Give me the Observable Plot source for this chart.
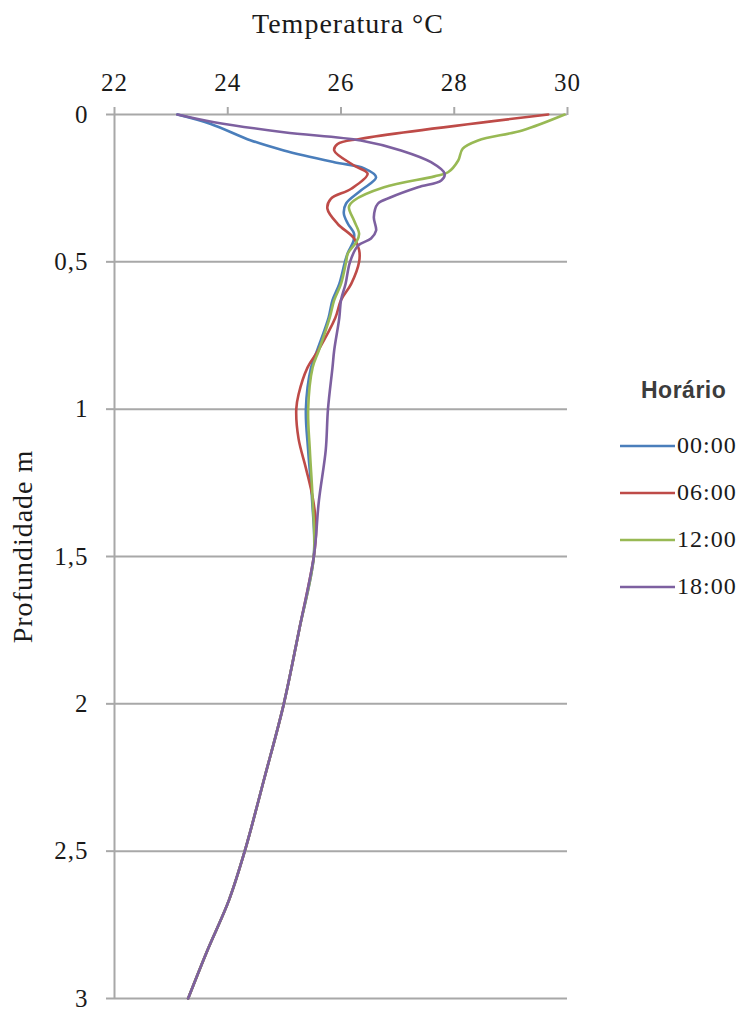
<!DOCTYPE html>
<html><head><meta charset="utf-8">
<script src="https://cdn.jsdelivr.net/npm/d3@7"></script>
<script src="https://cdn.jsdelivr.net/npm/@observablehq/plot@0.6"></script>
<style>
body{margin:0;background:#fff;}
#wrap{position:relative;width:740px;height:1010px;overflow:hidden;}
#legend{position:absolute;left:620px;top:372px;}
#legend .ttl{font-family:"Liberation Sans",sans-serif;font-weight:bold;font-size:23px;color:#3c3c3c;letter-spacing:0.5px;margin-left:21px;height:50px;line-height:36px;}
#legend .item{display:flex;align-items:center;height:47px;font-family:"Liberation Serif",serif;font-size:24px;letter-spacing:1px;color:#1a1a1a;}
#legend .item svg{margin-right:2px;}
</style></head><body><div id="wrap"></div>
<script>
const series = ["00:00", "06:00", "12:00", "18:00"];
const colors = ["#4a7ebb", "#be4b48", "#98b954", "#7d60a0"];
const legendTitle = "Horário";
const xTitle = "Temperatura °C";
const yTitle = "Profundidade m";
const xTicks = [22, 24, 26, 28, 30];
const yTicks = [0, 0.5, 1, 1.5, 2, 2.5, 3];

const depth00 = [0, 0.032, 0.088, 0.122, 0.162, 0.183, 0.213, 0.258, 0.302, 0.336, 0.37, 0.404, 0.43, 0.47, 0.5, 0.575, 0.63, 0.69, 0.8, 0.86, 1.0, 1.14, 1.31];
const temp00  = [23.11, 23.70, 24.41, 24.99, 25.88, 26.41, 26.62, 26.35, 26.09, 26.05, 26.12, 26.23, 26.22, 26.12, 26.07, 25.97, 25.85, 25.78, 25.58, 25.47, 25.38, 25.42, 25.49];

const depth06 = [0, 0.082, 0.1, 0.122, 0.173, 0.201, 0.252, 0.286, 0.32, 0.371, 0.42, 0.46, 0.5, 0.575, 0.63, 0.69, 0.8, 0.858, 0.95, 1.0, 1.1, 1.2, 1.3, 1.4];
const temp06  = [29.66, 26.35, 25.94, 25.88, 26.23, 26.47, 26.18, 25.82, 25.76, 25.94, 26.23, 26.32, 26.32, 26.18, 26.0, 25.9, 25.6, 25.41, 25.25, 25.21, 25.25, 25.38, 25.5, 25.56];

const depth12 = [0, 0.054, 0.088, 0.116, 0.156, 0.196, 0.21, 0.247, 0.292, 0.314, 0.36, 0.405, 0.433, 0.472, 0.5, 0.575, 0.63, 0.69, 0.8, 0.858, 1.0, 1.14, 1.31];
const temp12  = [29.95, 29.2, 28.42, 28.15, 28.07, 27.89, 27.65, 26.76, 26.23, 26.14, 26.23, 26.32, 26.27, 26.12, 26.09, 26.0, 25.88, 25.8, 25.61, 25.5, 25.42, 25.45, 25.5];

const depth18 = [0, 0.026, 0.06, 0.088, 0.122, 0.162, 0.201, 0.224, 0.247, 0.281, 0.303, 0.348, 0.394, 0.421, 0.445, 0.5, 0.575, 0.63, 0.69, 0.8, 0.858, 1.0, 1.14, 1.31];
const temp18  = [23.11, 23.76, 24.99, 26.35, 27.06, 27.59, 27.83, 27.77, 27.36, 26.88, 26.65, 26.58, 26.62, 26.53, 26.30, 26.16, 26.08, 26.0, 25.97, 25.88, 25.85, 25.77, 25.73, 25.61];

// shared deep part (all series coincide)
const tailDepth = [1.5, 1.75, 2.0, 2.25, 2.5, 2.667, 2.837, 3.0];
const tailTemp  = [25.52, 25.26, 24.99, 24.65, 24.3, 24.02, 23.64, 23.3];

const depths = [depth00, depth06, depth12, depth18];
const temps = [temp00, temp06, temp12, temp18];
const rows = [];
series.forEach((s, i) => {
  depths[i].forEach((d, j) => rows.push({series: s, depth: d, temp: temps[i][j]}));
  tailDepth.forEach((d, j) => rows.push({series: s, depth: d, temp: tailTemp[j]}));
});

const gridColor = "#a8a8a8";
const ink = "#1a1a1a";
const chart = Plot.plot({
  width: 740, height: 1010,
  marginTop: 114, marginLeft: 114, marginRight: 173, marginBottom: 12,
  style: {fontFamily: "Liberation Serif", color: ink, background: "#fff", letterSpacing: "1px"},
  x: {domain: [22, 30]},
  y: {domain: [0, 3], reverse: true},
  color: {domain: series, range: colors},
  marks: [
    Plot.gridY(yTicks, {stroke: gridColor, strokeOpacity: 1, strokeWidth: 2}),
    Plot.ruleX([22], {y1: 0, y2: 3, stroke: gridColor, strokeWidth: 2}),
    Plot.axisX(xTicks, {anchor: "top", tickSize: 8, tickPadding: 16, stroke: gridColor, strokeWidth: 2, fill: ink,
      fontSize: 25, label: null}),
    Plot.axisY(yTicks, {anchor: "left", tickSize: 8, tickPadding: 18, stroke: gridColor, strokeWidth: 2, fill: ink,
      fontSize: 25, tickFormat: d => String(d).replace(".", ","), label: null}),
    Plot.text([xTitle], {frameAnchor: "top", dx: 7, dy: -90, fontSize: 28, fill: ink, lineAnchor: "middle"}),
    Plot.text([yTitle], {frameAnchor: "left", textAnchor: "middle", rotate: -90, dx: -91, dy: -10, fontSize: 28, fill: ink, lineAnchor: "middle"}),
    Plot.line(rows, {x: "temp", y: "depth", z: "series", stroke: "series", strokeWidth: 2.6, curve: "catmull-rom"})
  ]
});
const wrap = document.getElementById("wrap");
wrap.appendChild(chart);

const legend = document.createElement("div");
legend.id = "legend";
let html = `<div class="ttl">${legendTitle}</div>`;
series.forEach((s, i) => {
  html += `<div class="item"><svg width="55" height="6"><line x1="0" y1="3" x2="55" y2="3" stroke="${colors[i]}" stroke-width="2.6"/></svg>${s}</div>`;
});
legend.innerHTML = html;
wrap.appendChild(legend);
</script></body></html>
